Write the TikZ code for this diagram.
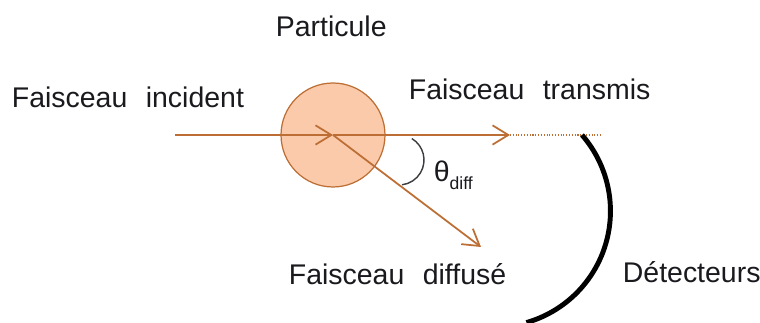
\documentclass[tikz,border=0pt]{standalone}
\usepackage{fontspec}
\setmainfont{Liberation Sans}
\usepackage{tikz}
\usepackage{xcolor}
\usetikzlibrary{arrows.meta, calc, positioning}

\definecolor{beamcol}{RGB}{188,110,52}
\definecolor{partfill}{RGB}{250,202,170}
\definecolor{inkcol}{RGB}{25,25,30}

\begin{document}
\begin{tikzpicture}[x=0.02cm, y=0.02cm, line width=1pt,
    beam/.style={beamcol, line width=1pt},
    tip/.style={-{Straight Barb[length=9pt, width=11pt]}},
    lbl/.style={inner sep=0pt, anchor=base west, text=inkcol, font=\fontsize{16.2}{19}\selectfont},
    particle/.style={circle, draw=beamcol, line width=0.7pt, fill=partfill, minimum size=2.08cm, inner sep=0pt}]
    \useasboundingbox (0,0) rectangle (760,323);
    % particle and beams
    \node[particle] (part) at (333,188) {};
    \coordinate (src) at (175,188);
    \coordinate (trans) at (510,188);
    \coordinate (transend) at (600,188);
    \coordinate (diff) at (481,76);
    \draw[beam, tip] (src) -- (part.center);
    \draw[beam, tip] (part.center) -- (trans);
    \draw[beamcol, line width=0.6pt, densely dotted] (trans) -- (transend);
    \draw[beam, tip] (part.center) -- (diff);
    % angle
    \draw[inkcol!85, line width=0.8pt] (399,163) ++(59:0.5cm) arc[start angle=59, end angle=-83, radius=0.5cm];
    \node[lbl] (theta) at (433,141) {θ\raisebox{-4.5pt}{\fontsize{10}{12}\selectfont diff}};
    % detector
    \coordinate (det) at (582,188);
    \draw[black, line width=2.8pt] (det) arc[start angle=41, end angle=-74, radius=2.32cm];
    % labels
    \node[lbl] (inc) at (11,215) {Faisceau\hspace{0.65em}incident};
    \node[lbl] (name) at (275,286) {Particule};
    \node[lbl] (transtxt) at (408,223) {Faisceau\hspace{0.65em}transmis};
    \node[lbl] (difftxt) at (288,38) {Faisceau\hspace{0.65em}diffusé};
    \node[lbl] (dettxt) at (622,40) {Détecteurs};
\end{tikzpicture}
\end{document}
